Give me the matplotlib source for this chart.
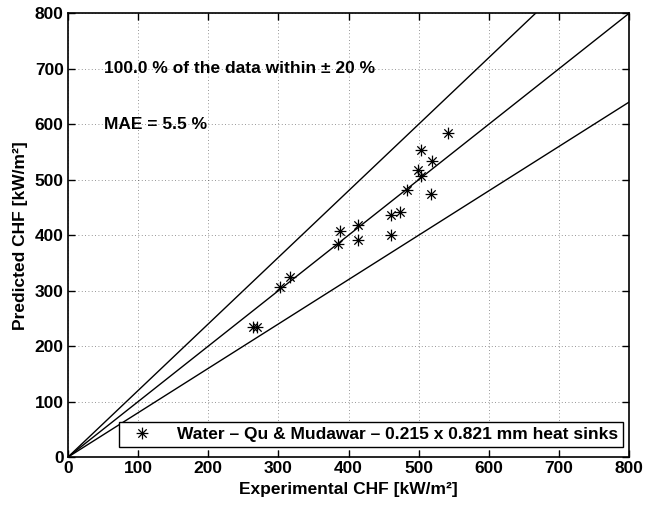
import matplotlib
matplotlib.use("Agg")
import matplotlib.pyplot as plt
import numpy as np
from matplotlib.path import Path

plt.rcParams['font.family'] = ['Liberation Sans', 'DejaVu Sans']
plt.rcParams['font.weight'] = 'bold'

# Data
exp_chf = [264, 270, 303, 316, 385, 388, 413, 413, 461, 461, 474, 483, 499, 503, 504, 518, 519, 542]
pred_chf = [235, 235, 306, 325, 385, 408, 392, 419, 401, 436, 441, 481, 517, 554, 506, 474, 533, 585]
ref_factors = [1.2, 1.0, 0.8]
ticks = [0, 100, 200, 300, 400, 500, 600, 700, 800]
legend_label = 'Water – Qu & Mudawar – 0.215 x 0.821 mm heat sinks'
text1 = '100.0 % of the data within ± 20 %'
text2 = 'MAE = 5.5 %'

FS = 12.5

fig = plt.figure(figsize=(6.46, 5.08), dpi=100)
ax = fig.add_axes([0.105, 0.100, 0.869, 0.874])

lim = [0, 800]
for f in ref_factors:
    ax.plot(lim, [lim[0] * f, lim[1] * f], color='black', lw=1.0)

# asterisk marker (+ and x)
verts = []
codes = []
for ang in [0, 45, 90, 135]:
    a = np.deg2rad(ang)
    verts += [(-np.cos(a), -np.sin(a)), (np.cos(a), np.sin(a))]
    codes += [Path.MOVETO, Path.LINETO]
star = Path(verts, codes)

ax.plot(exp_chf, pred_chf, linestyle='none', marker=star, markersize=8.5,
        markeredgecolor='black', markerfacecolor='none', markeredgewidth=0.9,
        label=legend_label)

ax.set_xlim(0, 800)
ax.set_ylim(0, 800)
ax.set_xticks(ticks)
ax.set_yticks(ticks)
ax.tick_params(direction='in', length=5, width=1, top=True, right=True, labelsize=FS, pad=3)
for lab in ax.get_xticklabels() + ax.get_yticklabels():
    lab.set_fontweight('bold')
ax.grid(True, linestyle=(0, (1, 3)), color='black', linewidth=0.6, alpha=0.55)
for s in ax.spines.values():
    s.set_linewidth(1.2)

ax.set_xlabel('Experimental CHF [kW/m²]', fontsize=FS, fontweight='bold', labelpad=4)
ax.set_ylabel('Predicted CHF [kW/m²]', fontsize=FS, fontweight='bold', labelpad=5)

ax.text(52, 700, text1, fontsize=FS, fontweight='bold', va='center', ha='left')
ax.text(52, 600, text2, fontsize=FS, fontweight='bold', va='center', ha='left')

leg = ax.legend(loc='lower right', bbox_to_anchor=(0.989, 0.022), fontsize=FS,
                fancybox=False, framealpha=1, edgecolor='black', borderpad=0.3,
                handletextpad=1.0, handlelength=2.0, borderaxespad=0)
leg.get_frame().set_linewidth(1.0)
for t in leg.get_texts():
    t.set_fontweight('bold')

fig.savefig('out.png', dpi=100)
